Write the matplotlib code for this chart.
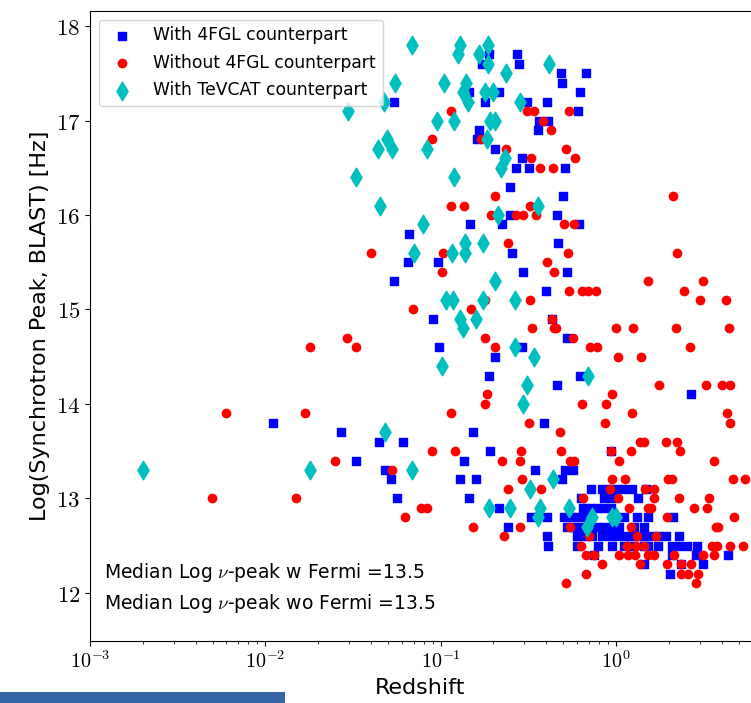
import numpy as np
import matplotlib
matplotlib.use("Agg")
import matplotlib.pyplot as plt
from matplotlib.ticker import FuncFormatter, FixedLocator, NullFormatter
from matplotlib.patches import Rectangle

plt.rcParams["font.family"] = "DejaVu Sans"
plt.rcParams["mathtext.fontset"] = "cm"

# points: (log10 redshift, log synchrotron peak [Hz])
with_4fgl = [
    (-0.727, 17.7), (-0.765, 17.6), (-0.565, 17.7), (-0.554, 17.6), (-0.840, 17.3),
    (-0.668, 17.3), (-0.745, 17.2), (-1.268, 17.2), (-0.784, 16.9), (-0.791, 16.8),
    (-0.688, 16.7), (-0.537, 16.6), (-0.569, 16.5), (-0.603, 16.3), (-0.603, 16.0),
    (-0.833, 15.9), (-0.648, 15.9), (-1.181, 15.8), (-0.592, 15.6), (-1.188, 15.5),
    (-1.017, 15.5), (-0.531, 15.4), (-1.268, 15.3), (-1.046, 14.9), (-1.010, 14.6),
    (-0.537, 14.6), (-0.688, 14.5), (-0.725, 14.3), (-1.959, 13.8), (-1.570, 13.7),
    (-1.349, 13.6), (-1.483, 13.4), (-0.818, 13.7), (-1.215, 13.6), (-0.721, 13.5),
    (-0.867, 13.4), (-1.319, 13.3), (-1.285, 13.2), (-0.888, 13.2), (-0.801, 13.2),
    (-1.252, 13.0), (-0.840, 13.0), (-0.668, 12.9), (-0.618, 12.7),
    (-0.316, 17.5), (-0.172, 17.5), (-0.309, 17.4), (-0.208, 17.3), (-0.510, 17.2),
    (-0.394, 17.2), (-0.219, 17.1), (-0.440, 17.0), (-0.386, 17.0), (-0.444, 16.9),
    (-0.497, 16.5), (-0.292, 16.5), (-0.303, 16.2), (-0.339, 16.0), (-0.212, 15.9),
    (-0.333, 15.7), (-0.278, 15.4), (-0.402, 15.2), (-0.368, 14.9), (-0.278, 14.7),
    (-0.208, 14.3), (-0.336, 14.2), (0.430, 14.1), (-0.413, 13.8), (-0.031, 13.5),
    (-0.464, 13.3), (-0.293, 13.3), (-0.246, 13.3), (-0.311, 13.2),
    # dense cluster around z ~ 1
    (-0.145, 13.1), (-0.079, 13.1), (-0.037, 13.1), (0.003, 13.1), (0.043, 13.1),
    (0.088, 13.1), (0.171, 13.1),
    (-0.202, 13.0), (-0.070, 13.0), (-0.026, 13.0), (0.123, 13.0),
    (-0.189, 12.9), (-0.151, 12.9), (-0.111, 12.9), (-0.070, 12.9), (-0.031, 12.9),
    (-0.487, 12.8), (-0.392, 12.8), (-0.299, 12.8), (-0.259, 12.8), (-0.219, 12.8),
    (-0.174, 12.8), (0.045, 12.8), (0.117, 12.8), (0.183, 12.8), (0.324, 12.8),
    (-0.278, 12.7), (-0.239, 12.7), (-0.197, 12.7), (-0.151, 12.7), (-0.107, 12.7),
    (-0.066, 12.7), (-0.026, 12.7), (0.014, 12.7), (0.102, 12.7), (0.159, 12.7),
    (-0.396, 12.6), (-0.221, 12.6), (-0.181, 12.6), (-0.139, 12.6), (-0.079, 12.6),
    (-0.037, 12.6), (0.003, 12.6), (0.043, 12.6), (0.083, 12.6), (0.123, 12.6),
    (0.162, 12.6), (0.202, 12.6), (0.242, 12.6), (0.282, 12.6), (0.359, 12.6),
    (-0.387, 12.5), (-0.221, 12.5), (-0.102, 12.5), (-0.026, 12.5), (0.045, 12.5),
    (0.083, 12.5), (0.159, 12.5), (0.183, 12.5), (0.240, 12.5), (0.320, 12.5),
    (0.354, 12.5), (0.402, 12.5), (0.463, 12.5),
    (-0.123, 12.4), (0.320, 12.4), (0.453, 12.4), (0.637, 12.4),
    (0.159, 12.3), (0.373, 12.3), (0.495, 12.3), (0.306, 12.2),
]

without_4fgl = [
    (-0.943, 17.1), (-0.510, 17.1), (-0.468, 17.1), (-0.267, 17.1), (-0.417, 17.0),
    (-0.369, 16.9), (-1.050, 16.8), (-0.772, 16.8), (-0.630, 16.7), (-0.286, 16.7),
    (-0.487, 16.6), (-0.232, 16.6), (-0.436, 16.5), (-0.358, 16.5), (-0.688, 16.2),
    (0.324, 16.2), (-0.939, 16.1), (-0.867, 16.1), (-0.493, 16.1), (-0.713, 16.0),
    (-0.569, 16.0), (-0.531, 16.0), (-0.459, 16.0), (-0.297, 15.9), (-0.240, 15.9),
    (-0.614, 15.7), (-1.399, 15.6), (-0.987, 15.6), (-0.275, 15.6), (0.345, 15.6),
    (-0.392, 15.5), (-0.993, 15.4), (-0.354, 15.4), (0.180, 15.3), (0.495, 15.3),
    (-0.271, 15.2), (-0.193, 15.2), (-0.161, 15.2), (-0.113, 15.2), (0.386, 15.2),
    (-0.745, 15.1), (-0.493, 15.1), (0.476, 15.1), (0.626, 15.1), (-1.156, 15.0),
    (-0.825, 15.0), (-0.368, 14.9), (-0.477, 14.8), (-0.354, 14.8), (-0.341, 14.8),
    (-0.003, 14.8), (0.096, 14.8), (0.341, 14.8), (0.645, 14.8), (-1.537, 14.7),
    (-0.745, 14.7), (-0.246, 14.7), (-1.746, 14.6), (-1.483, 14.6), (-0.688, 14.6),
    (-0.151, 14.6), (-0.107, 14.6), (0.423, 14.6), (0.012, 14.5), (0.141, 14.5),
    (0.244, 14.2), (0.512, 14.2), (0.605, 14.2), (0.648, 14.2), (-0.736, 14.1),
    (-0.024, 14.1), (-0.749, 14.0), (-0.195, 14.0), (-0.060, 14.0), (-2.223, 13.9),
    (-1.771, 13.9), (-0.939, 13.9), (0.092, 13.9), (0.634, 13.9), (-0.499, 13.8),
    (-0.064, 13.8), (0.647, 13.8), (-0.318, 13.7), (0.136, 13.6), (0.161, 13.6),
    (0.284, 13.6), (0.349, 13.6), (-1.051, 13.5), (-0.918, 13.5), (-0.541, 13.5),
    (-0.316, 13.5), (-0.031, 13.5), (0.087, 13.5), (0.366, 13.5), (-1.602, 13.4),
    (-0.652, 13.4), (-0.546, 13.4), (-0.265, 13.4), (-0.242, 13.4), (0.018, 13.4),
    (0.561, 13.4), (-1.275, 13.3), (-0.537, 13.2), (-0.024, 13.2), (0.052, 13.2),
    (0.295, 13.2), (0.320, 13.2), (0.666, 13.2), (0.738, 13.2), (-0.618, 13.1),
    (-0.426, 13.1), (-0.037, 13.1), (0.164, 13.1), (0.215, 13.1), (-2.303, 13.0),
    (-1.826, 13.0), (-0.189, 13.0), (0.010, 13.0), (0.217, 13.0), (0.358, 13.0),
    (0.531, 13.0), (-1.114, 12.9), (-1.078, 12.9), (0.073, 12.9), (0.180, 12.9),
    (0.197, 12.9), (0.442, 12.9), (0.516, 12.9), (-1.201, 12.8), (0.288, 12.8),
    (0.675, 12.8), (-0.818, 12.7), (-0.550, 12.7), (-0.265, 12.7), (0.087, 12.7),
    (0.567, 12.7), (0.580, 12.7), (-0.641, 12.6), (-0.155, 12.6), (0.120, 12.6),
    (0.228, 12.6), (-0.198, 12.5), (0.064, 12.5), (0.111, 12.5), (0.162, 12.5),
    (0.548, 12.5), (0.577, 12.5), (0.652, 12.5), (0.725, 12.5), (-0.174, 12.4),
    (-0.126, 12.4), (0.014, 12.4), (0.067, 12.4), (0.108, 12.4), (0.183, 12.4),
    (0.215, 12.4), (0.329, 12.4), (0.496, 12.4), (0.561, 12.4), (-0.079, 12.3),
    (0.134, 12.3), (0.291, 12.3), (0.373, 12.3), (0.428, 12.3), (-0.174, 12.2),
    (0.370, 12.2), (0.409, 12.2), (0.470, 12.2), (-0.286, 12.1), (0.453, 12.1),
]

with_tevcat = [
    (-1.161, 17.8), (-0.890, 17.8), (-0.903, 17.7), (-0.728, 17.8), (-0.784, 17.7),
    (-0.728, 17.6), (-0.626, 17.5), (-1.260, 17.4), (-0.979, 17.4), (-0.858, 17.4),
    (-0.873, 17.3), (-0.749, 17.3), (-0.700, 17.3), (-0.845, 17.2), (-0.546, 17.2),
    (-1.323, 17.2), (-1.526, 17.1), (-1.023, 17.0), (-0.926, 17.0), (-0.721, 17.0),
    (-0.692, 17.0), (-0.736, 16.8), (-1.357, 16.7), (-1.309, 16.8), (-1.278, 16.7),
    (-1.076, 16.7), (-0.631, 16.6), (-0.658, 16.5), (-1.483, 16.4), (-0.926, 16.4),
    (-1.348, 16.1), (-0.446, 16.1), (-0.673, 16.0), (-1.099, 15.9), (-0.859, 15.7),
    (-0.759, 15.7), (-1.150, 15.6), (-0.936, 15.6), (-0.859, 15.6), (-0.688, 15.3),
    (-0.968, 15.1), (-0.930, 15.1), (-0.759, 15.1), (-0.574, 15.1), (-0.888, 14.9),
    (-0.797, 14.9), (-0.873, 14.8), (-0.577, 14.6), (-0.468, 14.5), (-0.993, 14.4),
    (-0.158, 14.3), (-0.510, 14.2), (-0.531, 14.0), (-1.319, 13.7), (-2.700, 13.3),
    (-1.746, 13.3), (-1.161, 13.3), (-0.362, 13.2), (-0.493, 13.1), (-0.725, 12.9),
    (-0.607, 12.9), (-0.436, 12.9), (-0.444, 12.8), (-0.269, 12.9), (-0.136, 12.8),
    (-0.022, 12.8), (-0.003, 12.8), (-0.167, 12.7), (-0.383, 17.6),
]

median_w_fermi = 13.5
median_wo_fermi = 13.5


def unpack(pts):
    a = np.array(pts)
    return 10 ** a[:, 0], a[:, 1]


fig = plt.figure(figsize=(7.51, 7.03), dpi=100)
ax = fig.add_axes([0.1198, 0.0882, 0.8788, 0.8962])

z, nu = unpack(with_4fgl)
ax.scatter(z, nu, marker="s", s=36, c="b", label="With 4FGL counterpart")
z, nu = unpack(without_4fgl)
ax.scatter(z, nu, marker="o", s=36, c="r", label="Without 4FGL counterpart")
z, nu = unpack(with_tevcat)
ax.scatter(z, nu, marker="d", s=90, c="c", label="With TeVCAT counterpart")

ax.set_xscale("log")
ax.set_xlim(1e-3, 5.8)
ax.set_ylim(11.49, 18.16)
ax.yaxis.set_major_locator(FixedLocator(range(12, 19)))
ax.yaxis.set_major_formatter(FuncFormatter(lambda v, p: r"$%d$" % round(v)))
ax.xaxis.set_major_formatter(FuncFormatter(lambda v, p: r"$10^{%d}$" % round(np.log10(v))))
ax.xaxis.set_minor_formatter(NullFormatter())
ax.tick_params(axis="y", labelsize=16.5)
ax.tick_params(axis="x", labelsize=14.5)
ax.spines["right"].set_visible(False)

ax.set_xlabel("Redshift", fontsize=16)
ax.set_ylabel("Log(Synchrotron Peak, BLAST) [Hz]", fontsize=16)
ax.legend(loc="upper left", fontsize=12.3, labelspacing=0.55)

ax.text(0.021, 0.108, r"Median Log $\nu$-peak w Fermi =%.1f" % median_w_fermi,
        transform=ax.transAxes, fontsize=13.5, va="center")
ax.text(0.021, 0.060, r"Median Log $\nu$-peak wo Fermi =%.1f" % median_wo_fermi,
        transform=ax.transAxes, fontsize=13.5, va="center")

fig.add_artist(Rectangle((0, 0), 285 / 751, 11 / 703, transform=fig.transFigure,
                         color="#3465a4", lw=0))

fig.savefig("out.png", dpi=100)
